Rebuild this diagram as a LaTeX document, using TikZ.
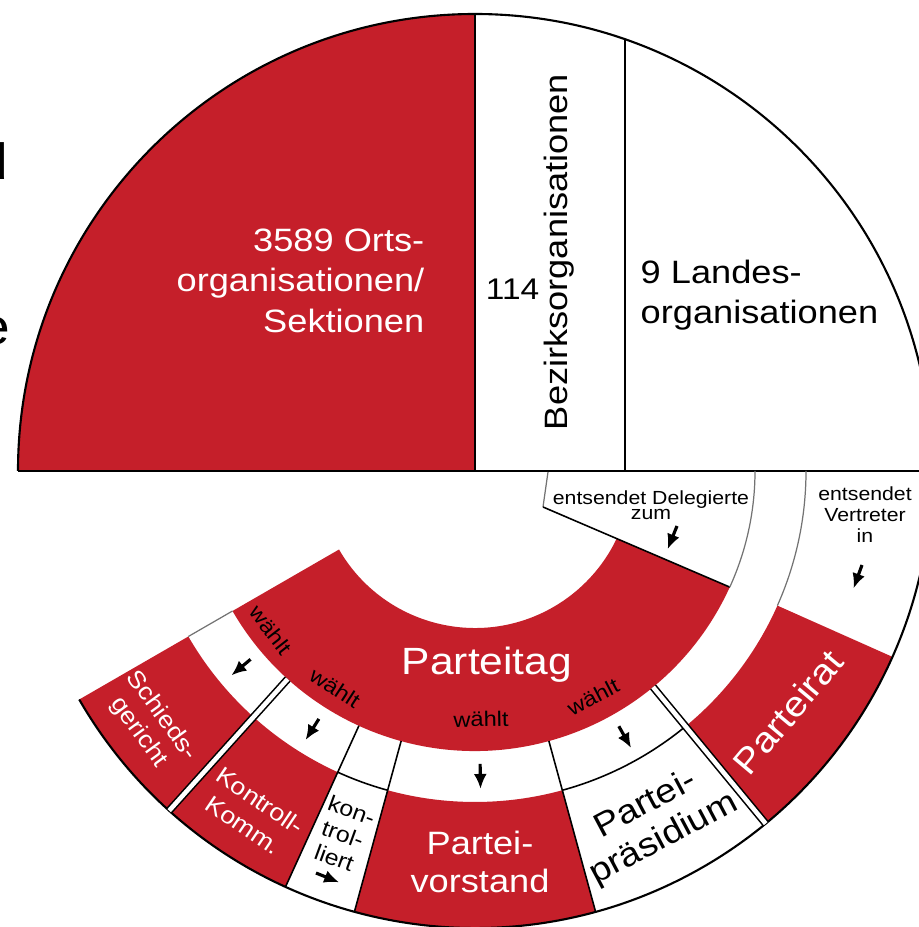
\documentclass[tikz,border=0pt]{standalone}
\usepackage{fontspec}
\setmainfont{Liberation Sans}[FakeStretch=1.12]
\usepackage{tikz}
\usetikzlibrary{arrows.meta}
\definecolor{spored}{RGB}{197,31,42}
\def\rInner{1.57}
\def\rMid{2.80}
\def\rBand{3.31}
\def\rOut{4.57}

\begin{document}
\begin{tikzpicture}[
  rim/.style={line width=0.6pt},
  sepline/.style={line width=0.45pt},
  thinline/.style={line width=0.35pt, black!55},
  dblsep/.style={double, double distance=1.3pt, line width=0.45pt},
  pfeil/.style={-{Latex[length=1.5mm,width=1.3mm]}, line width=0.9pt},
  weiss/.style={text=white, align=center, inner sep=0pt},
  schwarz/.style={text=black, align=center, inner sep=0pt},
  waehlt/.style={inner sep=0pt, font=\fontsize{6}{7}\selectfont}]
\useasboundingbox (-4.75,-4.56) rectangle (4.44,4.71);

% upper half: local, district and state organisations
\fill[spored] (0,0) -- (180:\rOut) arc (180:90:\rOut) -- cycle;
\draw[rim] (0:\rOut) arc (0:180:\rOut);
\draw[sepline] (180:\rOut) -- (0:\rOut);
\draw[sepline] (0,0) -- (0,\rOut);
\draw[sepline] (1.5,0) -- (1.5,{sqrt(\rOut*\rOut-2.25)});

% Parteitag ring and delegates box
\coordinate (dgA) at (0.73,-0.01);
\coordinate (dgB) at (0.68,-0.36);
\coordinate (dgC) at (335.5:\rMid);
\fill[spored] (210:\rInner) arc (210:334.5:\rInner) -- (dgC) arc (335.5:210:\rMid) -- cycle;
\draw[thinline] (dgA) -- (dgB);
\draw[sepline] (dgB) -- (dgC);
\draw[thinline] (dgC) arc (335.5:360:\rMid);

% outer ring
\fill[spored] (210:\rBand) arc (210:228:\rBand) -- (228:\rOut) arc (228:210:\rOut) -- cycle;
\fill[spored] (228:\rBand) arc (228:245.5:\rBand) -- (245.5:\rOut) arc (245.5:228:\rOut) -- cycle;
\fill[spored] (254.7:\rBand) arc (254.7:285.3:\rBand) -- (285.3:\rOut) arc (285.3:254.7:\rOut) -- cycle;
\fill[spored] (309.5:\rBand) arc (309.5:336:\rBand) -- (336:\rOut) arc (336:309.5:\rOut) -- cycle;
\draw[rim] (210:\rOut) arc (210:360:\rOut);
\draw[thinline] (210:\rMid) -- (210:\rBand);
\draw[thinline] (336:\rBand) arc (336:360:\rBand);
\draw[sepline] (245.5:\rMid) -- (245.5:\rOut);
\draw[sepline] (254.7:\rMid) -- (254.7:\rOut);
\draw[sepline] (285.3:\rMid) -- (285.3:\rOut);
\draw[sepline] (245.5:\rBand) arc (245.5:254.7:\rBand);
\draw[sepline] (285.3:\rBand) arc (285.3:309.5:\rBand);
\draw[dblsep] (228:\rMid) -- (228:\rOut);
\draw[dblsep] (309.5:\rMid) -- (309.5:\rOut);

% arrows
\draw[pfeil] (220:2.93) -- (220:3.18);
\draw[pfeil] (237.8:2.93) -- (237.8:3.18);
\draw[pfeil] (271:2.93) -- (271:3.18);
\draw[pfeil] (299.4:2.93) -- (299.4:3.18);
\draw[pfeil] (2.02,-0.55) -- ++(-112:0.25);
\draw[pfeil] (3.87,-0.94) -- ++(-110:0.25);
\draw[pfeil] (-1.59,-4.02) -- ++(-22:0.25);

% texts
\node at (-4.66,2.91) [anchor=base east, inner sep=0pt, font=\fontsize{14.5}{16}\selectfont] (rand1) {d};
\node at (-4.64,1.26) [anchor=base east, inner sep=0pt, font=\fontsize{14.5}{16}\selectfont] (rand2) {e};
\node at (-0.50,2.43) [weiss, anchor=north east, align=right, font=\fontsize{9.2}{11.5}\selectfont] (orts) {3589 Orts-\\organisationen/\\Sektionen};
\node at (0.65,1.71) [schwarz, anchor=base east, font=\fontsize{8.5}{10}\selectfont] (bezzahl) {114};
\node at (0.92,2.19) [schwarz, anchor=base, rotate=90, font=\fontsize{9.2}{11}\selectfont] (bezirk) {Bezirksorganisationen};
\node at (1.65,2.12) [schwarz, anchor=north west, align=left, font=\fontsize{9.2}{11.4}\selectfont] (landes) {9 Landes-\\organisationen};
\node at (1.76,-0.19) [schwarz, anchor=north, font=\fontsize{5.4}{4.2}\selectfont] (deleg) {entsendet Delegierte\\zum};
\node at (3.90,-0.15) [schwarz, anchor=north, font=\fontsize{5.4}{6}\selectfont] (vertr) {entsendet\\Vertreter\\in};
\node at (0.12,-2.04) [weiss, anchor=base, font=\fontsize{10.8}{12}\selectfont] (ptag) {Parteitag};
\node at (-2.04,-1.59) [waehlt, rotate=-52] (w1) {wählt};
\node at (-1.40,-2.17) [waehlt, rotate=-33] (w2) {wählt};
\node at (0.06,-2.48) [waehlt, rotate=1] (w3) {wählt};
\node at (1.18,-2.26) [waehlt, rotate=27.5] (w4) {wählt};
\node at (-3.25,-2.53) [weiss, rotate=-54, font=\fontsize{6.8}{8}\selectfont] (schied) {Schieds-\\gericht};
\node at (-2.23,-3.42) [weiss, rotate=-34, font=\fontsize{6.8}{8.4}\selectfont] (kontr) {Kontroll-\\Komm.};
\node at (-1.32,-3.63) [schwarz, rotate=-20, font=\fontsize{6.3}{7.2}\selectfont] (kontrl) {kon-\\trol-\\liert};
\node at (0.05,-3.905) [weiss, font=\fontsize{9.2}{10.8}\selectfont] (vorst) {Partei-\\vorstand};
\node at (1.80,-3.51) [schwarz, rotate=28, font=\fontsize{9.5}{11}\selectfont] (praes) {Partei-\\präsidium};
\node at (3.13,-2.41) [weiss, rotate=50, font=\fontsize{10}{12}\selectfont] (prat) {Parteirat};
\end{tikzpicture}
\end{document}
